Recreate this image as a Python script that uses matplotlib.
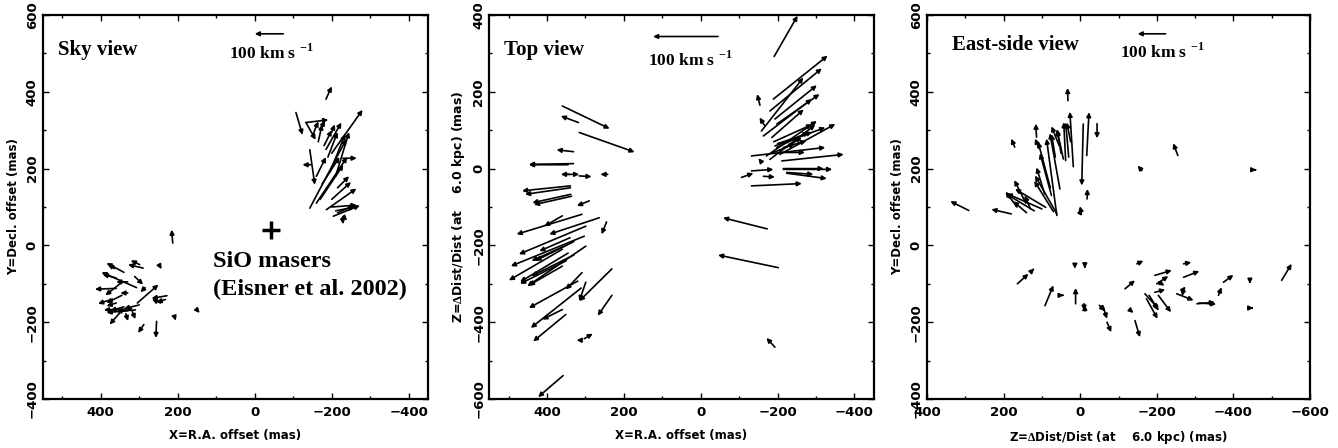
import matplotlib
matplotlib.use("Agg")
import matplotlib.pyplot as plt
from matplotlib.ticker import MultipleLocator

# ---------------- data (mas; tail position and vector) ----------------
# Panel 1: sky view (X = R.A. offset, Y = Decl. offset)
sky_x = [-185, -107, -133, -133, -150, -165, -200, -229, -145, -143, -143, -160, -170, -186, -200, -204,
         -210, -230, -228, -180, -185, -195, -210, -190, -170, -160, -175, -215, -200, -215, -200,
         213, 247, 150, 208, 255, 288, 305, 228, 232, 245, 299, 290, 340, 307, 312, 360, 370, 330,
         320, 330, 340, 300, 310, 350, 335, 318, 365, 330, 360, 350, 345, 360, 285]
sky_y = [381, 346, 320, 320, 285, 270, 240, 227, 210, 249, 97, 110, 120, 93, 120, 76,
         90, 75, 70, 260, 250, 190, 180, 230, 300, 180, 160, 150, 100, 85, 295,
         6, -53, -168, -187, -198, -206, -150, -131, -141, -150, -50, -59, -70, -110, -81, -112, -140, -124,
         -165, -170, -160, -155, -168, -175, -178, -172, -60, -95, -85, -100, -130, -150, -110]
sky_dx = [-15, -17, -58, -25, -15, -10, -80, -36, 21, -13, -95, -80, -60, -78, -50, -69,
          -50, -10, -2, -20, -40, -40, -35, -25, -12, -25, -45, -30, -65, -45, -8,
          3, -5, -7, -3, 2, 15, -55, 40, 23, 22, 23, 39, 45, 91, -22, 55, 37, 19,
          72, 55, 35, 40, 50, 27, -6, -8, 15, 30, 35, 38, 40, 25, 12]
sky_dy = [33, -58, 7, -45, 38, 45, 113, 0, 0, -91, 180, 120, 90, 55, 45, 28,
          10, -10, -15, 40, 70, 100, 115, 65, 25, 50, 70, 30, 5, 20, 20,
          35, -9, -8, -9, -43, -22, 48, -7, -7, 10, 11, 9, 24, 40, -21, -2, -12, 0,
          -3, -5, -10, -10, -4, -31, -19, -20, 12, 0, 10, -30, -20, -8, -12]

# Panel 2: top view (X = R.A. offset, Z = line-of-sight distance offset)
top_x = [360, 318, 316, 331, 331, 345, 342, 351, 316, 242, 339, 339, 338, 336, 290, 309, 360, 264,
         245, 299, 303, 360, 350, 330, 299, 340, 360, 320, 309, 299, 231, 311, 360, 351, 231, 303,
         312, 358, 330, 350, 345,
         -191, -189, -180, -193, -198, -158, -163, -185, -154, -167, -171, -180, -193, -206, -198,
         -206, -132, -206, -211, -215, -158, -215, -215, -224, -224, -132, -106, -163, -132, -173,
         -202, -193, -190, -200, -185]
top_z = [163, 120, 94, 44, 13, 10, -15, -15, -19, -15, -45, -50, -67, -72, -84, -119, -123, -128,
         -139, -150, -176, -210, -200, -190, -202, -180, -254, -293, -271, -296, -261, -311, -367, -380,
         -330, -443, -447, -539, -225, -240, -220,
         292, 181, 150, 129, 116, 98, 85, 81, 165, 111, 33, 24, 59, 37, 55,
         46, 33, 42, 20, 55, 17, 0, -2, -10, -12, -6, -23, -20, -45, -157,
         -258, -465, 70, 65, 40]
top_dx = [-123, 46, -144, 44, 116, 102, 22, -35, -32, 19, 126, 118, 100, 98, 32, 170, 47, 130,
          13, 174, 191, 139, 90, 100, 152, 80, 87, 127, 42, 17, 85, 131, 52, 85, 37, -22,
          11, 65, 110, 120, 125,
          -61, -141, -135, -109, -111, -109, -126, -83, 7, 14, -131, -118, -131, -144, -83,
          -57, -192, -65, -161, -60, 8, -105, -127, -69, -104, -57, -31, -30, -131, 115,
          157, 22, -100, -90, -60]
top_dz = [-59, 17, -51, 5, -2, 0, 0, 0, -2, 0, -13, -17, -22, -22, -13, -52, -27, -43,
          -32, -73, -78, -81, -40, -50, -104, -35, -50, -70, -44, -49, -84, -104, -26, -70,
          -53, 13, 0, -56, -55, -60, -75,
          106, 113, 111, 88, 78, 139, 96, 73, 29, 22, 91, 90, 48, 79, 40,
          35, 22, 0, 17, 17, 10, 0, 0, -5, -14, 4, 11, -2, 6, 29,
          33, 24, 45, 30, 25]

# Panel 3: east-side view (Z = line-of-sight offset, Y = Decl. offset)
east_z = [291, 180, 32, 171, 107, 114, 18, -8, -17, -44, -18, -2, 0, 61, 61, 70, 90, 100, 120, 140,
          130, 53, 44, 38, 50, 93, 75, 30, 25, 78, 55, 65, 142, 165,
          164, 123, 92, 46, 12, 14, -12, -10, -12, -50, -55, -60, -70, -117, -148, -130, -143, -169,
          -173, -180, -204, -195, -195, -200, -205, -252, -270, -270, -265, -270, -305, -310, -361,
          -374, -443, -448, -526, -457, -161, -255]
east_y = [91, 82, 377, 256, 252, 282, 205, 316, 234, 317, 121, 90, 85, 78, 82, 88, 99, 95, 90, 85,
          95, 147, 225, 221, 240, 134, 130, 230, 270, 150, 260, 230, 110, 100,
          -100, -63, -157, -130, -152, -48, -52, -152, -170, -156, -160, -160, -200, -113, -48, -168,
          -196, -126, -139, -130, -130, -78, -122, -100, -95, -126, -48, -83, -120, -115, -152, -150,
          -130, -96, -91, -163, -91, 197, 195, 234]
east_dz = [48, 52, 1, 9, 11, 2, 9, 4, -6, 0, -1, 3, -5, 27, 57, 50, 80, 92, 75, 35,
           15, 26, 17, 5, 10, 21, 30, 8, 10, 32, 20, 10, 30, 30,
           -29, -3, -22, -3, 0, 0, 0, 0, 0, -15, -10, -10, -11, -26, -17, -9, -13, -35,
           -29, -25, -33, -44, -27, -30, -15, -44, -20, -41, -10, 4, -47, -45, -8,
           -26, 0, -4, -26, -3, 11, 12]
east_dy = [24, 12, 33, 22, 26, 35, 143, -160, 113, -38, 26, 12, 10, 200, 100, 80, 48, 40, 45, 30,
           35, 145, 78, 100, 60, 69, 110, 90, 50, 120, 50, 60, 60, 40,
           26, 3, 53, 0, 41, -13, -8, -18, 15, -14, -12, -31, -26, 22, 8, -8,
           -43, -39, -52, -40, -44, 13, 7, 20, -10, -17, 4, 16, 13, -17, 4, -3, 21,
           19, -9, 0, 43, 0, 13, 32]

# scale bars (100 km/s) : tail x, tail y, length in plot units
scale_p1 = (-74, 551, 74)
scale_p2 = (-45, 344, 169)
scale_p3 = (-223, 551, 73)

# ---------------- figure ----------------
plt.rcParams['mathtext.fontset'] = 'custom'
plt.rcParams['mathtext.rm'] = 'Liberation Serif:bold'
plt.rcParams['mathtext.bf'] = 'Liberation Serif:bold'

fig = plt.figure(figsize=(13.38, 4.48), dpi=100)
W, H = 1338.0, 448.0
rects = [(43, 15, 428, 399), (489.3, 15, 873.7, 399), (927, 15, 1310, 399)]
axes = [fig.add_axes([l / W, 1 - b / H, (r - l) / W, (b - t) / H]) for (l, t, r, b) in rects]

serif = dict(family='Liberation Serif', weight='bold')
sans = dict(family='DejaVu Sans', weight='bold')


def style(ax, xlim, ylim, xlabel, ylabel, ylabsize=8.5):
    ax.set_xlim(*xlim)
    ax.set_ylim(*ylim)
    ax.xaxis.set_major_locator(MultipleLocator(200))
    ax.xaxis.set_minor_locator(MultipleLocator(100))
    ax.yaxis.set_major_locator(MultipleLocator(200))
    ax.yaxis.set_minor_locator(MultipleLocator(100))
    ax.tick_params(which='both', direction='in', top=True, right=True, width=1.0, colors='k')
    ax.tick_params(which='major', length=4.5)
    ax.tick_params(which='minor', length=2.5)
    ax.tick_params(axis='x', labelsize=9.5, pad=5)
    ax.tick_params(axis='y', labelsize=9.5, labelrotation=90, pad=3)
    for lab in ax.get_xticklabels() + ax.get_yticklabels():
        lab.set_fontweight('bold')
        lab.set_family('DejaVu Sans')
    for lab in ax.get_yticklabels():
        lab.set_va('center')
    for s in ax.spines.values():
        s.set_linewidth(1.6)
    ax.set_xlabel(xlabel, fontsize=8.5, labelpad=7, **sans)
    ax.set_ylabel(ylabel, fontsize=ylabsize, labelpad=4, **sans)


def draw_arrow(ax, x, y, dx, dy):
    ax.annotate('', xy=(x + dx, y + dy), xytext=(x, y),
                arrowprops=dict(arrowstyle='-|>', color='k', lw=1.2,
                                mutation_scale=6.5, shrinkA=0, shrinkB=0))


def arrows(ax, xs, ys, dxs, dys):
    for x, y, dx, dy in zip(xs, ys, dxs, dys):
        draw_arrow(ax, x, y, dx, dy)


def scalebar(ax, sb, tx, ty):
    x0, y0, L = sb
    draw_arrow(ax, x0, y0, L, 0)
    ax.text(tx, ty, r'100 km s $^{-1}$', fontsize=12.5, ha='left', va='baseline', **serif)


ax1, ax2, ax3 = axes
zlab = r'Z=$\Delta$Dist/Dist (at    6.0 kpc) (mas)'
style(ax1, (550, -450), (-400, 600), 'X=R.A. offset (mas)', 'Y=Decl. offset (mas)')
style(ax2, (550, -450), (-600, 400), 'X=R.A. offset (mas)', zlab, ylabsize=9)
style(ax3, (400, -600), (-400, 600), zlab, 'Y=Decl. offset (mas)')

arrows(ax1, sky_x, sky_y, sky_dx, sky_dy)
arrows(ax2, top_x, top_z, top_dx, top_dz)
arrows(ax3, east_z, east_y, east_dz, east_dy)

scalebar(ax1, scale_p1, 67, 485)
scalebar(ax2, scale_p2, 137, 268)
scalebar(ax3, scale_p3, -103, 490)

ax1.text(511, 496, 'Sky view', fontsize=15, ha='left', va='baseline', **serif)
ax2.text(512, 296, 'Top view', fontsize=15, ha='left', va='baseline', **serif)
ax3.text(335, 510, 'East-side view', fontsize=15, ha='left', va='baseline', **serif)

ax1.plot([-41], [41], marker='+', color='k', markersize=13, mew=2.5)
ax1.text(108, -55, 'SiO masers', fontsize=17.5, ha='left', va='baseline', **serif)
ax1.text(108, -128, '(Eisner et al. 2002)', fontsize=17.5, ha='left', va='baseline', **serif)

fig.savefig('out.png', dpi=100)
